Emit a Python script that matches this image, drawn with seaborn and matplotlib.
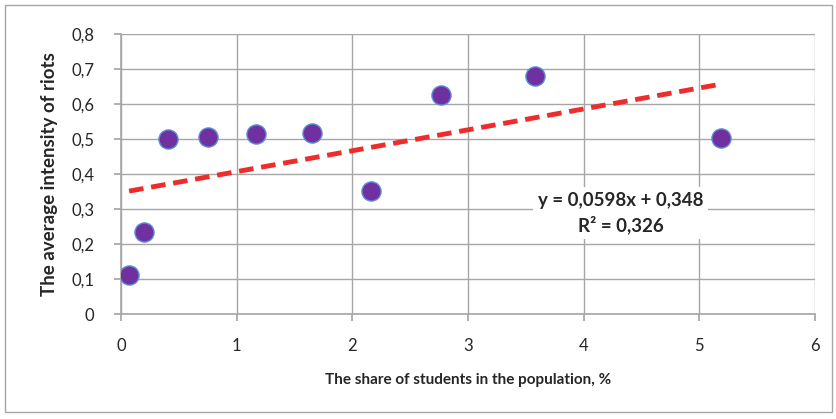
import numpy as np
import pandas as pd
import matplotlib
matplotlib.use("Agg")
import matplotlib.pyplot as plt
import seaborn as sns
from matplotlib.patches import Rectangle
from matplotlib.ticker import FuncFormatter

# данные
share_students = [0.07, 0.20, 0.41, 0.75, 1.17, 1.65, 2.16, 2.77, 3.58, 5.19]
riot_intensity = [0.111, 0.234, 0.500, 0.506, 0.514, 0.517, 0.351, 0.626, 0.680, 0.503]
x_ticks = [0, 1, 2, 3, 4, 5, 6]
y_ticks = [0, 0.1, 0.2, 0.3, 0.4, 0.5, 0.6, 0.7, 0.8]
eq_text = "y = 0,0598x + 0,348\nR² = 0,326"

sns.set_theme(style="white")
plt.rcParams['font.family'] = ['Lato', 'DejaVu Sans']

df = pd.DataFrame({'x': share_students, 'y': riot_intensity})

fig = plt.figure(figsize=(8.37, 4.19), dpi=100)
ax = fig.add_axes([121 / 837, 1 - 314 / 419, (815 - 121) / 837, (314 - 34) / 419])

ax.grid(True, color='#A6A6A6', linewidth=1)
ax.set_axisbelow(True)

sns.regplot(data=df, x='x', y='y', ax=ax, ci=None, scatter=False,
            line_kws={'color': '#EE2C2C', 'linestyle': (0, (3, 1.6)), 'linewidth': 3.5})
sns.scatterplot(data=df, x='x', y='y', ax=ax, s=190, color='#7030A0',
                edgecolor='#5B8FD6', linewidth=1, zorder=3)

ax.set_xlim(0, 6)
ax.set_ylim(0, 0.8)
ax.set_xticks(x_ticks)
ax.set_yticks(y_ticks)
ax.yaxis.set_major_formatter(FuncFormatter(lambda v, p: f"{v:.1f}".replace('.', ',') if v != 0 else "0"))
ax.tick_params(axis='both', which='major', length=5, color='#A6A6A6', labelsize=12,
               direction='out', bottom=True, left=True)
ax.tick_params(axis='x', pad=12)
ax.tick_params(axis='y', pad=14)
for s in ['top', 'right']:
    ax.spines[s].set_visible(False)
for s in ['left', 'bottom']:
    ax.spines[s].set_color('#A6A6A6')
    ax.spines[s].set_linewidth(1.2)

ax.set_xlabel('The share of students in the population, %', fontsize=11, fontweight='bold', labelpad=14)
ax.set_ylabel('The average intensity of riots', fontsize=13.5, fontweight='bold', labelpad=10)

ax.text(4.32, 0.289, eq_text, fontsize=13.5, fontweight='bold', ha='center', va='center',
        linespacing=1.4, zorder=4,
        bbox=dict(boxstyle='square,pad=0.25', facecolor='white', edgecolor='none'))

# рамка вокруг всей диаграммы
fig.patches.append(Rectangle((5 / 837, 1 - 412 / 419), 827 / 837, 407 / 419,
                             transform=fig.transFigure, fill=False,
                             edgecolor='#A6A6A6', linewidth=1))

fig.savefig('out.png', dpi=100)
